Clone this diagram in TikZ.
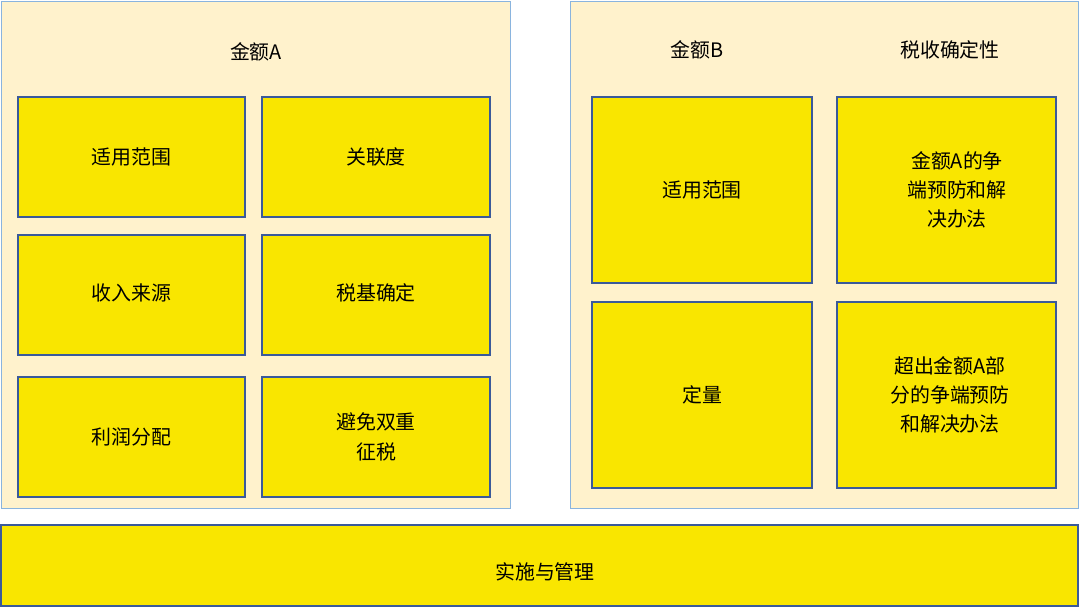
\documentclass[tikz,border=0pt]{standalone}
\usepackage{fontspec}
\setmainfont{Noto Sans CJK SC}
\usepackage{xcolor}
\definecolor{boxyellow}{HTML}{F9E600}
\definecolor{boxblue}{HTML}{3A5A9A}
\definecolor{panelfill}{HTML}{FFF2CC}
\definecolor{panelline}{HTML}{8AB4DE}
\tikzset{
  panel/.style={fill=panelfill, draw=panelline, line width=0.8pt},
  itembox/.style={fill=boxyellow, draw=boxblue, line width=1.2pt},
  label/.style={font=\fontsize{17}{25}\selectfont, align=center}
}
\begin{document}
\begin{tikzpicture}[x=0.03cm, y=-0.03cm]
        \useasboundingbox (0,0) rectangle (1080,608);
        % panels
        \draw[panel] (1,1) rectangle (510,508);
        \draw[panel] (570,1) rectangle (1078,508);
        \node[label] (titleA) at (256,52) {金额A};
        \node[label] (titleB) at (697,50) {金额B};
        \node[label] (titleC) at (950,50) {税收确定性};

        % left boxes
        \draw[itembox] (18,97) rectangle (245,217);
        \node[label] (scopeA) at (131.5,157) {适用范围};
        \draw[itembox] (262,97) rectangle (490,217);
        \node[label] (nexus) at (376,157) {关联度};
        \draw[itembox] (18,235) rectangle (245,355);
        \node[label] (source) at (131.5,293) {收入来源};
        \draw[itembox] (262,235) rectangle (490,355);
        \node[label] (base) at (376,293) {税基确定};
        \draw[itembox] (18,377) rectangle (245,497);
        \node[label] (profit) at (131.5,437) {利润分配};
        \draw[itembox] (262,377) rectangle (490,497);
        \node[label] (double) at (376,437) {避免双重\\征税};

        % right boxes
        \draw[itembox] (592,97) rectangle (812,283);
        \node[label] (scopeB) at (702,190) {适用范围};
        \draw[itembox] (837,97) rectangle (1056,283);
        \node[label] (disputeA) at (957,190) {金额A的争\\端预防和解\\决办法};
        \draw[itembox] (592,302) rectangle (812,488);
        \node[label] (quant) at (702,395) {定量};
        \draw[itembox] (837,302) rectangle (1056,488);
        \node[label] (disputeB) at (950,395) {超出金额A部\\分的争端预防\\和解决办法};

        % bottom bar
        \draw[itembox] (1,525) rectangle (1078,606);
        \node[label] (impl) at (545,572) {实施与管理};
\end{tikzpicture}
\end{document}
